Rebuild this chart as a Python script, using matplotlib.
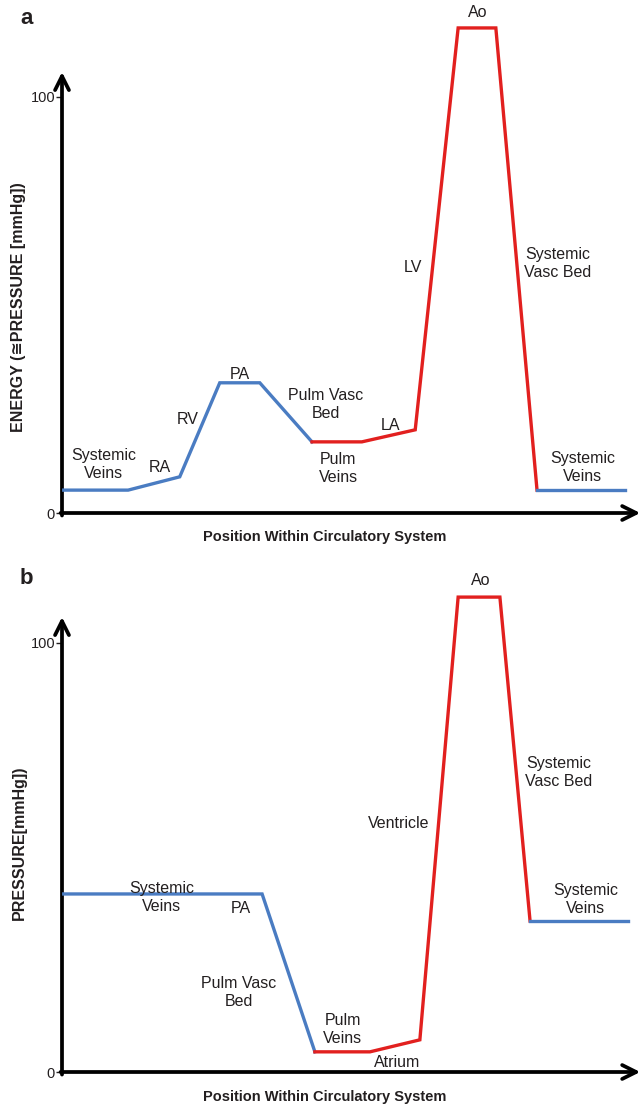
import matplotlib.pyplot as plt

plt.rcParams['font.family'] = ['Liberation Sans', 'DejaVu Sans']

W, H = 642, 1111
BLUE = "#4a7cc2"
RED = "#e2201f"
INK = "#231f20"

# Panel a: energy along the circuit (position units 0-100)
a_blue1_x = [0.3, 11.4, 20.3, 27.2, 34.1, 43.1]
a_blue1_y = [5.5, 5.5, 8.7, 31.3, 31.3, 17.1]
a_red_x = [43.1, 51.7, 60.9, 68.3, 74.8, 81.9]
a_red_y = [17.1, 17.1, 20.0, 116.6, 116.6, 5.5]
a_blue2_x = [81.9, 97.1]
a_blue2_y = [5.5, 5.5]

# Panel b: pressure along the circuit
b_blue1_x = [0.3, 34.5, 43.6]
b_blue1_y = [41.5, 41.5, 4.7]
b_red_x = [43.6, 53.1, 61.7, 68.3, 75.5, 80.7]
b_red_y = [4.7, 4.7, 7.5, 110.7, 110.7, 35.2]
b_blue2_x = [80.7, 97.6]
b_blue2_y = [35.2, 35.2]

a_labels = [("Systemic\nVeins", 7.2, 11.6), ("RA", 16.9, 11.0), ("RV", 21.7, 22.5),
            ("PA", 30.7, 33.2), ("Pulm Vasc\nBed", 45.5, 26.2), ("Pulm\nVeins", 47.6, 10.6),
            ("LA", 56.7, 21.0), ("LV", 60.5, 59.1), ("Ao", 71.7, 120.4),
            ("Systemic\nVasc Bed", 85.5, 60.0), ("Systemic\nVeins", 89.8, 11.0)]
b_labels = [("Systemic\nVeins", 17.2, 40.6), ("PA", 30.9, 38.2), ("Pulm Vasc\nBed", 30.5, 18.6),
            ("Pulm\nVeins", 48.4, 9.8), ("Atrium", 57.8, 2.3), ("Ventricle", 58.1, 57.9),
            ("Ao", 72.2, 114.6), ("Systemic\nVasc Bed", 85.7, 69.9), ("Systemic\nVeins", 90.3, 40.3)]

fig = plt.figure(figsize=(W / 100, H / 100), dpi=100)


def px_text(x, y, s, **kw):
    fig.text(x / W, 1 - y / H, s, color=INK, **kw)


def panel(bottom_px, top_px, ymax, yarrow, curves, labels):
    ax = fig.add_axes([62 / W, 1 - bottom_px / H, (W - 62) / W, (bottom_px - top_px) / H])
    ax.set_xlim(0, 100)
    ax.set_ylim(0, ymax)
    for s in ax.spines.values():
        s.set_visible(False)
    ax.set_xticks([])
    ax.set_yticks([0, 100])
    ax.set_yticklabels(["0", "100"])
    ax.tick_params(axis="y", length=4, width=1, color=INK, labelcolor=INK,
                   labelsize=10.5, pad=1)
    arrow = dict(arrowstyle="->,head_length=1.0,head_width=0.5", lw=2.7, color="black",
                 shrinkA=0, shrinkB=0)
    ax.annotate("", xy=(0, yarrow), xytext=(0, -0.6), arrowprops=arrow, annotation_clip=False)
    ax.annotate("", xy=(99.7, 0), xytext=(-0.25, 0), arrowprops=arrow, annotation_clip=False)
    for xs, ys, c in curves:
        ax.plot(xs, ys, color=c, lw=2.4, solid_joinstyle="miter", clip_on=False, zorder=3)
    for s, x, y in labels:
        ax.text(x, y, s, ha="center", va="center", fontsize=11.5, color=INK,
                linespacing=1.25)
    return ax


panel(513, 0, 513 / 4.16, (513 - 72) / 4.16,
      [(a_blue1_x, a_blue1_y, BLUE), (a_red_x, a_red_y, RED), (a_blue2_x, a_blue2_y, BLUE)],
      a_labels)
panel(1072, 560, 512 / 4.29, (1072 - 617) / 4.29,
      [(b_blue1_x, b_blue1_y, BLUE), (b_red_x, b_red_y, RED), (b_blue2_x, b_blue2_y, BLUE)],
      b_labels)

px_text(20, 18, "a", fontsize=16, fontweight="bold", ha="left", va="center")
px_text(20, 578, "b", fontsize=16, fontweight="bold", ha="left", va="center")
px_text(325, 537, "Position Within Circulatory System", fontsize=10.5,
        fontweight="bold", ha="center", va="center")
px_text(325, 1097, "Position Within Circulatory System", fontsize=10.5,
        fontweight="bold", ha="center", va="center")
px_text(19, 307, "ENERGY (\u2245PRESSURE [mmHg])", fontsize=11.5, fontweight="bold",
        rotation=90, ha="center", va="center")
px_text(19, 843, "PRESSURE[mmHg])", fontsize=11.5, fontweight="bold",
        rotation=90, ha="center", va="center")

fig.savefig("out.png", dpi=100)
